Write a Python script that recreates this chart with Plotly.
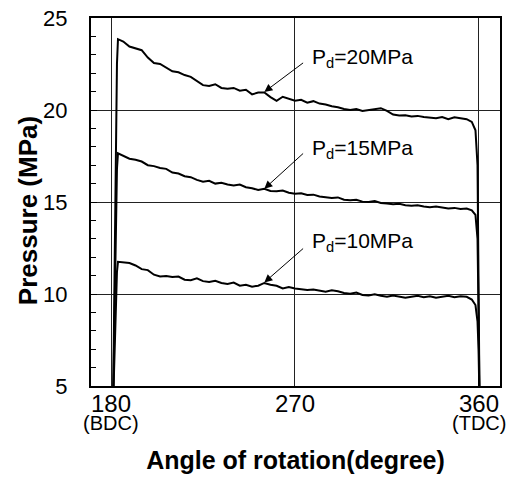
import plotly.graph_objects as go

# crank angle (degree), shared by all three curves
angle = [181.0, 182.2, 182.9, 183.4,
         186, 189, 192, 195, 198, 201, 204, 207, 210, 213, 216, 219, 222, 225,
         228, 231, 234, 237, 240, 243, 246, 249, 252, 255, 258, 261, 264, 267,
         270, 273, 276, 279, 282, 285, 288, 291, 294, 297, 300, 303, 306, 309,
         312, 315, 318, 321, 324, 327, 330, 333, 336, 339, 342, 345, 348, 351,
         354,
         356.5, 358.3, 359.3, 359.8, 360.3]

# cylinder pressure (MPa)
p20 = [4.0, 16.0, 22.5, 23.85,
       23.72, 23.45, 23.35, 23.25, 22.85, 22.55, 22.5, 22.3, 22.1, 22.05, 21.9, 21.8, 21.55, 21.35,
       21.3, 21.4, 21.2, 21.15, 21.2, 21.05, 21.1, 20.85, 20.95, 20.95, 20.7, 20.5, 20.72, 20.6,
       20.5, 20.55, 20.4, 20.48, 20.35, 20.3, 20.2, 20.15, 20.05, 20.0, 20.05, 19.95, 20.0, 20.05,
       20.1, 19.95, 19.75, 19.7, 19.72, 19.65, 19.68, 19.62, 19.6, 19.55, 19.62, 19.5, 19.6, 19.55,
       19.5,
       19.35, 18.9, 17.0, 12.0, 4.0]

p15 = [4.0, 12.0, 16.8, 17.65,
       17.5, 17.35, 17.3, 17.2, 17.0, 16.95, 16.85, 16.8, 16.6, 16.55, 16.4, 16.35, 16.2, 16.1,
       16.15, 16.0, 16.05, 15.95, 15.9, 15.95, 15.8, 15.75, 15.65, 15.72, 15.6, 15.58, 15.62, 15.5,
       15.45, 15.48, 15.38, 15.4, 15.3, 15.28, 15.22, 15.25, 15.12, 15.1, 15.12, 15.02, 15.0, 15.05,
       14.95, 14.92, 14.88, 14.9, 14.82, 14.8, 14.82, 14.75, 14.72, 14.75, 14.68, 14.65, 14.68, 14.62,
       14.65,
       14.55, 14.3, 13.0, 9.0, 4.0]

p10 = [4.0, 9.0, 11.2, 11.75,
       11.7, 11.68, 11.55, 11.35, 11.3, 11.05, 10.95, 10.98, 10.92, 10.95, 10.78, 10.75, 10.85, 10.7,
       10.65, 10.72, 10.6, 10.55, 10.62, 10.45, 10.5, 10.4, 10.45, 10.6, 10.5, 10.45, 10.3, 10.38,
       10.3, 10.28, 10.22, 10.25, 10.18, 10.12, 10.2, 10.15, 10.05, 10.02, 10.08, 9.95, 9.92, 9.98,
       9.9, 9.85, 9.92, 9.88, 9.8, 9.85, 9.9, 9.82, 9.88, 9.8, 9.85, 9.9, 9.82, 9.88,
       9.85,
       9.7, 9.4, 8.5, 7.0, 4.0]

labels = ['P<sub>d</sub>=20MPa', 'P<sub>d</sub>=15MPa', 'P<sub>d</sub>=10MPa']
# arrow tip (on curve) and tail, label anchor
tip_x = [255, 255, 255]
tip_y = [20.98, 15.72, 10.63]
tail_x = [274.7, 274.7, 274.7]
tail_y = [22.62, 17.71, 12.54]
label_x = [277.3, 277.3, 277.3]
label_y = [22.85, 17.9, 12.85]

xtick_vals = [180, 270, 360]
xtick_text = ['180', '270', '360']
xtick_sub = ['(BDC)', '', '(TDC)']

font = 'Liberation Sans, Arial, sans-serif'

fig = go.Figure()
for p in [p20, p15, p10]:
    fig.add_trace(go.Scatter(x=angle, y=p, mode='lines',
                             line=dict(color='black', width=2),
                             showlegend=False, cliponaxis=True))

for i in range(3):
    fig.add_annotation(x=tip_x[i], y=tip_y[i], ax=tail_x[i], ay=tail_y[i],
                       xref='x', yref='y', axref='x', ayref='y',
                       text='', showarrow=True, arrowhead=2, arrowsize=1.6,
                       arrowwidth=1, arrowcolor='black')
    fig.add_annotation(x=label_x[i], y=label_y[i], xref='x', yref='y',
                       text=labels[i], showarrow=False, xanchor='left',
                       font=dict(family=font, size=21, color='black'))

# second line under the end tick labels
for v, s in zip(xtick_vals, xtick_sub):
    if s:
        fig.add_annotation(x=v, y=0, xref='x', yref='paper', yshift=-24,
                           text=s, showarrow=False, yanchor='top',
                           font=dict(family=font, size=20, color='black'))

# y axis title, placed by hand so it sits where the original has it
fig.add_annotation(x=-0.154, y=0.475, xref='paper', yref='paper',
                   text='<b>Pressure (MPa)</b>', textangle=-90, showarrow=False,
                   xanchor='center', yanchor='middle',
                   font=dict(family=font, size=26, color='black'))

fig.update_xaxes(range=[170.2, 370.3], tickvals=xtick_vals, ticktext=xtick_text,
                 showgrid=True, gridcolor='#222', gridwidth=1,
                 showline=True, linecolor='black', linewidth=2, mirror=True,
                 ticks='', zeroline=False, automargin=False, ticklabelstandoff=-5,
                 tickfont=dict(family=font, size=24, color='black'),
                 title=dict(text='<b>Angle of rotation(degree)</b>', standoff=36,
                            font=dict(family=font, size=25, color='black')))
fig.update_yaxes(range=[5, 25], dtick=5, showgrid=True, gridcolor='#222', gridwidth=1,
                 showline=True, linecolor='black', linewidth=2, mirror=True,
                 ticks='inside', ticklen=6, tickcolor='black', zeroline=False,
                 minor=dict(dtick=1, ticks='inside', ticklen=5, tickcolor='black', showgrid=False),
                 ticklabelstandoff=17, automargin=False,
                 tickfont=dict(family=font, size=22, color='black'))

fig.update_layout(width=520, height=488, plot_bgcolor='white', paper_bgcolor='white',
                  margin=dict(l=91, r=20, t=18, b=102))

fig.write_html('out.html', config={'displayModeBar': False},
               post_script="document.body.style.margin='0';")
